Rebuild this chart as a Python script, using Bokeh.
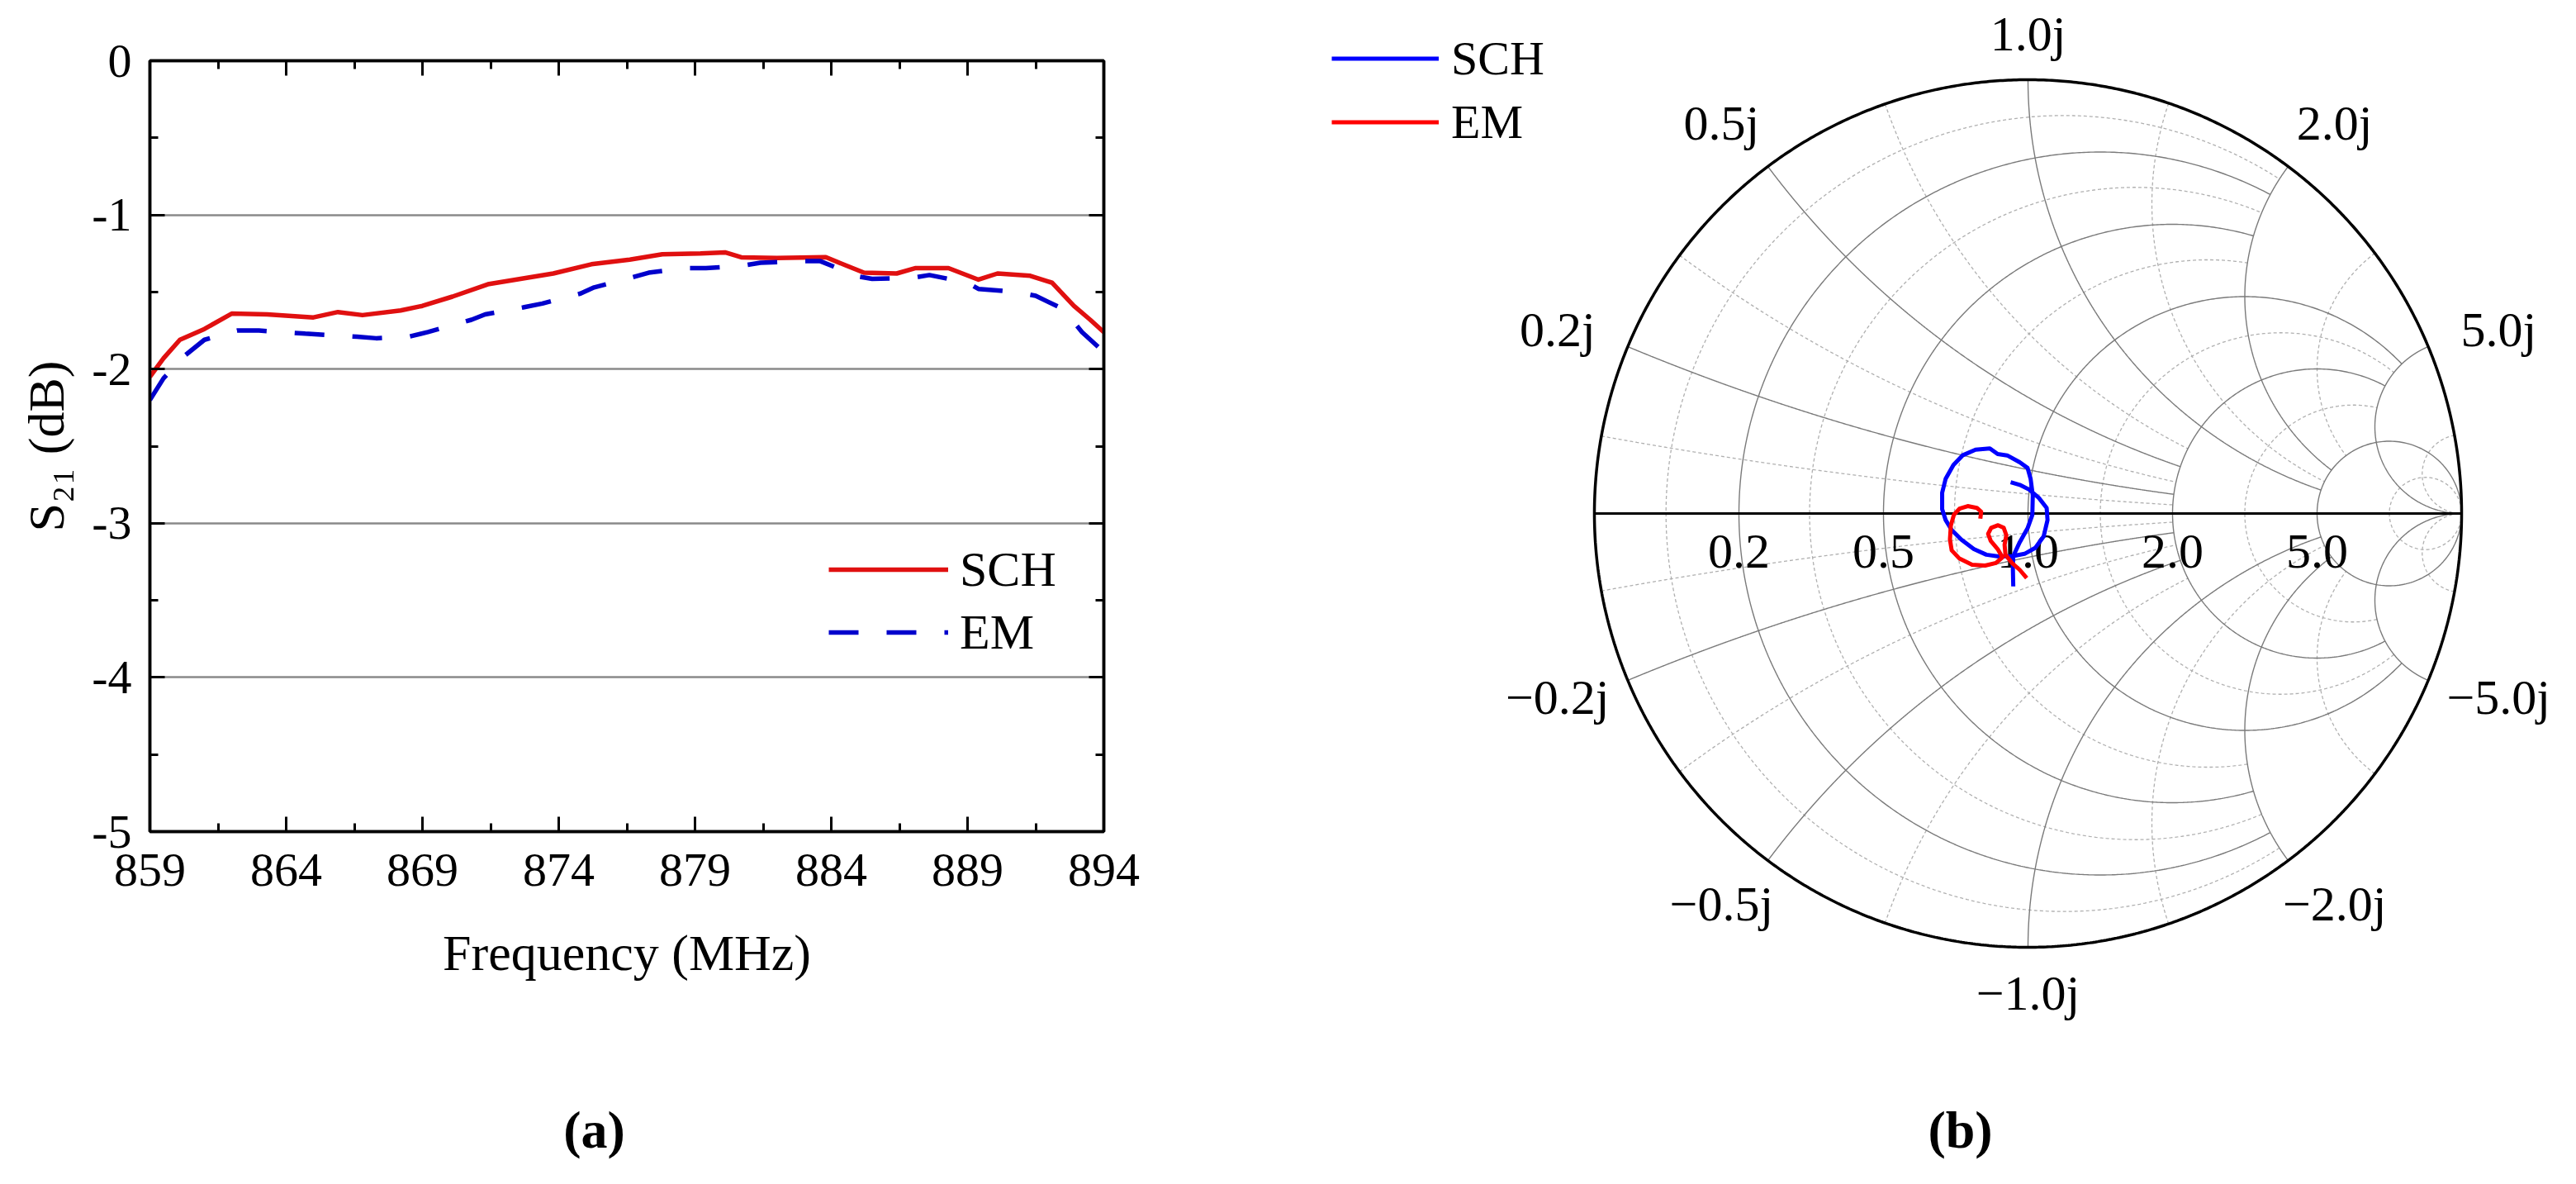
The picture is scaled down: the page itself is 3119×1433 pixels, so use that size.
import numpy as np
from bokeh.plotting import figure
from bokeh.models import (Range1d, FixedTicker, LinearAxis, Legend, LegendItem,
                          CustomJSTickFormatter)
from bokeh.embed import file_html
from bokeh.resources import INLINE
from bokeh.core.properties import value

# ---------------- panel (a) data ----------------
sch_freq = [859.0, 859.5, 860.1, 861.0, 862.0, 863.3, 865.0, 865.9, 866.8, 868.2, 869.0,
            870.1, 871.4, 872.6, 873.8, 875.2, 876.6, 877.8, 879.2, 880.1, 880.7, 882.0,
            883.8, 884.5, 885.2, 886.4, 887.1, 888.3, 889.4, 890.1, 891.3, 892.1, 892.9,
            893.5, 894.0]
sch_s21 = [-2.05, -1.93, -1.81, -1.74, -1.64, -1.645, -1.665, -1.63, -1.65, -1.62, -1.59,
           -1.53, -1.45, -1.415, -1.38, -1.32, -1.29, -1.255, -1.25, -1.243, -1.275, -1.28,
           -1.274, -1.325, -1.375, -1.38, -1.345, -1.345, -1.42, -1.38, -1.395, -1.44, -1.59,
           -1.68, -1.76]
em_freq = [859.0, 859.5, 860.3, 861.0, 862.2, 863.0, 864.7, 866.6, 867.3, 868.5, 869.2,
           870.8, 871.3, 872.7, 873.4, 874.8, 875.3, 876.6, 877.3, 878.7, 879.4, 880.7,
           881.4, 882.9, 883.6, 885.0, 885.5, 886.9, 887.6, 889.0, 889.4, 890.8, 891.5,
           892.5, 893.2, 894.0]
em_s21 = [-2.20, -2.06, -1.91, -1.81, -1.75, -1.75, -1.77, -1.79, -1.80, -1.79, -1.76,
          -1.68, -1.645, -1.60, -1.575, -1.51, -1.47, -1.41, -1.375, -1.345, -1.345, -1.33,
          -1.31, -1.30, -1.30, -1.40, -1.415, -1.41, -1.39, -1.44, -1.48, -1.50, -1.525,
          -1.61, -1.76, -1.89]
x_ticks = [859, 864, 869, 874, 879, 884, 889, 894]
y_ticks = [0, -1, -2, -3, -4, -5]

# ---------------- panel (b) data (reflection coefficient) ----------------
sch_re = [-0.034, -0.035, -0.034, -0.019, -0.001, 0.010, 0.011, 0.006, -0.001, -0.019, -0.048,
          -0.070, -0.088, -0.121, -0.151, -0.172, -0.190, -0.198, -0.198, -0.190, -0.176,
          -0.154, -0.125, -0.096, -0.067, -0.035, -0.008, 0.017, 0.036, 0.045, 0.043, 0.025,
          0.003, -0.019, -0.040]
sch_im = [-0.168, -0.123, -0.098, -0.066, -0.034, -0.003, 0.042, 0.080, 0.105, 0.118, 0.134,
          0.137, 0.150, 0.147, 0.134, 0.112, 0.080, 0.048, 0.010, -0.015, -0.038, -0.060,
          -0.082, -0.095, -0.099, -0.098, -0.093, -0.079, -0.053, -0.015, 0.013, 0.036,
          0.055, 0.066, 0.072]
em_re = [-0.110, -0.108, -0.118, -0.139, -0.158, -0.171, -0.178, -0.180, -0.176, -0.158,
         -0.129, -0.099, -0.074, -0.059, -0.070, -0.086, -0.092, -0.085, -0.069, -0.056,
         -0.050, -0.054, -0.052, -0.037, -0.019, -0.003]
em_im = [-0.012, 0.004, 0.013, 0.017, 0.011, -0.003, -0.028, -0.060, -0.085, -0.104, -0.118,
         -0.120, -0.114, -0.101, -0.082, -0.063, -0.047, -0.033, -0.027, -0.033, -0.050,
         -0.072, -0.095, -0.114, -0.130, -0.149]
grid_major = [0.2, 0.5, 1.0, 2.0, 5.0]
grid_minor = [0.09, 0.33, 0.71, 1.4, 3.0, 11.0]
real_labels = ["0.2", "0.5", "1.0", "2.0", "5.0"]
imag_values = [0.2, 0.5, 1.0, 2.0, 5.0, -0.2, -0.5, -1.0, -2.0, -5.0]
imag_labels = ["0.2j", "0.5j", "1.0j", "2.0j", "5.0j", "\u22120.2j", "\u22120.5j", "\u22121.0j",
               "\u22122.0j", "\u22125.0j"]
captions = ["(a)", "(b)"]

FONT = "Liberation Serif"
PAGE_W, H = 3110, 1425
W_A = 1550

# ================= panel (a) =================
fa = figure(width=W_A, height=H, x_range=Range1d(859, 894), y_range=Range1d(-5, 0),
            output_backend="svg", toolbar_location=None,
            min_border_left=181, min_border_right=W_A - 1336,
            min_border_top=73, min_border_bottom=H - 1006)
fa.background_fill_color = "white"
fa.border_fill_color = "white"
fa.outline_line_color = "black"
fa.outline_line_width = 3.5

xt = FixedTicker(ticks=x_ticks, minor_ticks=[t + 2.5 for t in x_ticks[:-1]])
yt = FixedTicker(ticks=y_ticks, minor_ticks=[t - 0.5 for t in y_ticks[:-1]])
fmt = CustomJSTickFormatter(code="return tick.toFixed(0);")


def style_axis(ax, ticker, show_labels):
    ax.ticker = ticker
    ax.axis_line_color = "black"
    ax.axis_line_width = 3.5
    ax.major_tick_in = 18
    ax.major_tick_out = 0
    ax.minor_tick_in = 10
    ax.minor_tick_out = 0
    ax.major_tick_line_color = "black"
    ax.minor_tick_line_color = "black"
    ax.major_tick_line_width = 3
    ax.minor_tick_line_width = 3
    ax.formatter = fmt
    ax.major_label_text_font = FONT
    ax.major_label_text_color = "black"
    if show_labels:
        ax.major_label_text_font_size = "58px"
    else:
        ax.major_label_text_font_size = "10px"
        ax.major_label_text_alpha = 0
        ax.major_label_standoff = 0


xa = fa.xaxis[0]
ya = fa.yaxis[0]
style_axis(xa, xt, True)
style_axis(ya, yt, True)
xa.major_label_standoff = 27
ya.major_label_standoff = 22
xa.axis_label = "Frequency (MHz)"
ya.axis_label = "S\u2082\u2081 (dB)"
for ax in (xa, ya):
    ax.axis_label_text_font = FONT
    ax.axis_label_text_font_size = "62px"
    ax.axis_label_text_font_style = "normal"
    ax.axis_label_text_color = "black"
xa.axis_label_standoff = 44
ya.axis_label_standoff = 18

top_ax = LinearAxis()
style_axis(top_ax, xt, False)
fa.add_layout(top_ax, "above")
right_ax = LinearAxis()
style_axis(right_ax, yt, False)
fa.add_layout(right_ax, "right")

fa.xgrid.visible = False
fa.ygrid.ticker = yt
fa.ygrid.grid_line_color = "#8a8a8a"
fa.ygrid.grid_line_width = 2.5

r_sch = fa.line(sch_freq, sch_s21, line_color="#e01010", line_width=5.5, line_join="round")
r_em = fa.line(em_freq, em_s21, line_color="#0000cc", line_width=5.5, line_dash="36 34")

leg_a = Legend(items=[LegendItem(label="SCH", renderers=[r_sch]),
                      LegendItem(label="EM", renderers=[r_em])],
               location=(822, 203), orientation="vertical", padding=0, margin=0, spacing=0,
               glyph_width=145, glyph_height=76, label_height=76, label_standoff=14,
               label_text_font=FONT, label_text_font_size="60px", label_text_color="black",
               border_line_color=None, background_fill_alpha=0)
fa.add_layout(leg_a)

# ================= panel (b) : Smith chart (transparent overlay over whole page) ====
CX, CY, RAD = 2455, 621, 525.0
fb = figure(width=PAGE_W, height=H,
            x_range=Range1d(-CX / RAD, (PAGE_W - CX) / RAD),
            y_range=Range1d(-(H - CY) / RAD, CY / RAD),
            output_backend="svg", toolbar_location=None,
            x_axis_location=None, y_axis_location=None, min_border=0,
            styles={"position": "absolute", "left": "0px", "top": "0px"})
fb.grid.visible = False
fb.outline_line_color = None
fb.background_fill_color = None
fb.border_fill_color = None


def gamma(z):
    return (z - 1) / (z + 1)


def limit_for(v):
    if v < 1:
        return 2.0
    if v < 5:
        return 5.0
    return np.inf


def r_circle(r, xlim):
    smax = np.arctan(xlim) if np.isfinite(xlim) else np.pi / 2 * 0.9995
    s = np.linspace(-smax, smax, 700)
    g = gamma(r + 1j * np.tan(s))
    return list(g.real), list(g.imag)


def x_arc(x, rlim):
    tmax = rlim / (1 + rlim) if np.isfinite(rlim) else 0.9995
    t = np.linspace(0, tmax, 700)
    g = gamma(t / (1 - t) + 1j * x)
    return list(g.real), list(g.imag)


def grid_lines(vals):
    xs, ys = [], []
    for v in vals:
        lim = limit_for(v)
        a, b = r_circle(v, lim)
        xs.append(a); ys.append(b)
        for sgn in (1, -1):
            a, b = x_arc(sgn * v, lim)
            xs.append(a); ys.append(b)
    return xs, ys


mxs, mys = grid_lines(grid_minor)
fb.multi_line(mxs, mys, line_color="#b0b0b0", line_width=1.3, line_dash="4 3")
Mxs, Mys = grid_lines(grid_major)
fb.multi_line(Mxs, Mys, line_color="#7a7a7a", line_width=1.4)

th = np.linspace(0, 2 * np.pi, 1000)
fb.line(np.cos(th), np.sin(th), line_color="black", line_width=3.5)
fb.line([-1, 1], [0, 0], line_color="black", line_width=3)

# real-axis labels
rl_x = [float(gamma(v)) for v in grid_major]
fb.text(x=rl_x, y=[-46 / RAD] * len(rl_x), text=real_labels, text_align="center",
        text_baseline="middle", text_font=value(FONT), text_font_size="60px",
        text_color="black")

# reactance labels around the rim
il_x, il_y = [], []
for v in imag_values:
    ang = np.angle(gamma(1j * v))
    c, s = np.cos(ang), np.sin(ang)
    rho = 1.105 + 0.065 * abs(c)
    shift = np.radians(1.3) * np.sign(c) * np.sign(s) if abs(c) > 1e-6 else 0.0
    ang2 = ang - shift
    il_x.append(rho * np.cos(ang2))
    il_y.append(rho * np.sin(ang2))
fb.text(x=il_x, y=il_y, text=imag_labels, text_align="center", text_baseline="middle",
        text_font=value(FONT), text_font_size="60px", text_color="black")

s_sch = fb.line(sch_re, sch_im, line_color="#0000ff", line_width=5, line_join="round")
s_em = fb.line(em_re, em_im, line_color="#ff0000", line_width=5, line_join="round")

leg_b = Legend(items=[LegendItem(label="SCH", renderers=[s_sch]),
                      LegendItem(label="EM", renderers=[s_em])],
               location=(1612, H - 70 - 38.5 - 77), orientation="vertical", padding=0,
               margin=0, spacing=0,
               glyph_width=130, glyph_height=77, label_height=77, label_standoff=15,
               label_text_font=FONT, label_text_font_size="58px", label_text_color="black",
               border_line_color=None, background_fill_alpha=0)
fb.add_layout(leg_b)

# panel captions
cap_x = [(719 - CX) / RAD, (2373 - CX) / RAD]
cap_y = [(CY - 1367) / RAD] * 2
fb.text(x=cap_x, y=cap_y, text=captions, text_align="center", text_baseline="middle",
        text_font=value(FONT), text_font_size="64px", text_font_style="bold",
        text_color="black")

open("out.html", "w").write(file_html([fa, fb], INLINE))
